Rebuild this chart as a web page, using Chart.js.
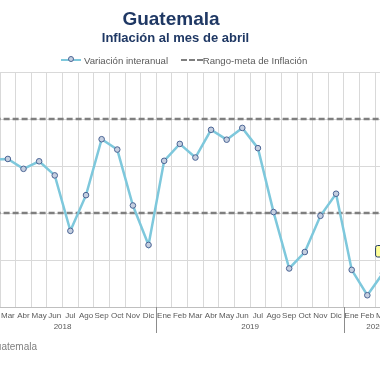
<!DOCTYPE html>
<html lang="es">
<head>
<meta charset="UTF-8">
<title>Guatemala: Inflación al mes de abril</title>
<script src="https://cdn.jsdelivr.net/npm/chart.js"></script>
<style>
  html, body { margin: 0; padding: 0; width: 380px; height: 380px; overflow: hidden; background: #fff;
    font-family: "Liberation Sans", Arial, sans-serif; }
  .wrap { position: absolute; left: -100px; top: 0; width: 540px; height: 380px; }
  .title { position: absolute; left: 0; width: 342px; top: 8px; text-align: center;
    font-weight: bold; font-size: 19px; color: #1f3864; }
  .subtitle { position: absolute; left: 0; width: 351px; top: 30px; text-align: center;
    font-weight: bold; font-size: 13px; color: #1f3864; }
  .legend { position: absolute; left: 61px; top: 54px; font-size: 9.6px; color: #595959; white-space: nowrap; }
  .legend span { display: inline-block; vertical-align: middle; }
  .ico-line { position: relative; width: 20px; height: 2px; background: #7ec8dc; margin-right: 3px; }
  .ico-line::after { content: ""; position: absolute; left: 7px; top: -3px; width: 6px; height: 6px;
    border-radius: 50%; border: 1px solid #4a6494; background: #c5cfe0; box-sizing: border-box; }
  .ico-dash { width: 22px; height: 0; border-top: 2px dashed #7f7f7f; margin-left: 10px; }
  .source { position: absolute; right: 343px; top: 341px; font-size: 10px; color: #7f7f7f; white-space: nowrap; }
</style>
</head>
<body>
  <div class="wrap"><canvas id="inflChart"></canvas></div>
  <div class="title">Guatemala</div>
  <div class="subtitle">Inflación al mes de abril</div>
  <div class="legend">
    <span class="ico-line"></span><span>Variación interanual</span>
    <span class="ico-dash"></span><span>Rango-meta de Inflación</span>
  </div>
  <div class="source">Fuente: Banco de Guatemala</div>

<script>
  // meses (ene 2018 - abr 2020)
  const months = ['Ene','Feb','Mar','Abr','May','Jun','Jul','Ago','Sep','Oct','Nov','Dic',
                  'Ene','Feb','Mar','Abr','May','Jun','Jul','Ago','Sep','Oct','Nov','Dic',
                  'Ene','Feb','Mar','Abr'];
  const years = ['2018', '2019', '2020'];
  const monthsPerYear = [12, 12, 4];

  // variación interanual (%)
  const inflation = [4.71, 4.14, 4.15, 3.94, 4.10, 3.80, 2.62, 3.38, 4.57, 4.35, 3.16, 2.32,
                     4.11, 4.47, 4.18, 4.77, 4.56, 4.81, 4.38, 3.02, 1.82, 2.17, 2.94, 3.41,
                     1.79, 1.25, 1.72, 2.00];

  // rango-meta: 4% +/- 1 punto
  const rangoMeta = [3, 5];

  const yTicks = { min: 1, max: 6, step: 1 };

  // year labels under the months, separators between years, label on the last value
  const extras = {
    id: 'extras',
    afterDatasetsDraw(chart) {
      const { ctx, chartArea, scales: { x } } = chart;
      ctx.save();
      ctx.font = '8px "Liberation Sans", Arial, sans-serif';
      ctx.fillStyle = '#595959';
      ctx.textAlign = 'center';
      ctx.textBaseline = 'middle';
      ctx.strokeStyle = '#8c8c8c';
      ctx.lineWidth = 1;
      let start = 0;
      years.forEach((yr, i) => {
        const end = start + monthsPerYear[i] - 1;
        const mid = (x.getPixelForValue(start) + x.getPixelForValue(end)) / 2;
        ctx.fillText(yr, mid, chartArea.bottom + 20);
        const half = (x.getPixelForValue(1) - x.getPixelForValue(0)) / 2;
        const sx = Math.round(x.getPixelForValue(start) - half) + 0.5;
        ctx.beginPath();
        ctx.moveTo(sx, chartArea.bottom);
        ctx.lineTo(sx, chartArea.bottom + 26);
        ctx.stroke();
        start = end + 1;
      });

      const meta = chart.getDatasetMeta(0);
      const pt = meta.data[meta.data.length - 1];
      const w = 46, h = 11.5;
      ctx.beginPath();
      ctx.roundRect(pt.x - w / 2, pt.y - 14.5, w, h, 2);
      ctx.fillStyle = '#ffff99';
      ctx.fill();
      ctx.strokeStyle = '#1f3864';
      ctx.stroke();
      ctx.fillStyle = '#1f3864';
      ctx.fillText(inflation[inflation.length - 1].toFixed(2) + '%', pt.x, pt.y - 8.75);
      ctx.restore();
    }
  };

  const ctxInfl = document.getElementById('inflChart').getContext('2d');
  new Chart(ctxInfl, {
    type: 'line',
    data: {
      labels: months,
      datasets: [{
        label: 'Variación interanual',
        data: inflation,
        borderColor: '#7ec8dc',
        borderWidth: 2.5,
        pointRadius: 2.8,
        pointBackgroundColor: '#c5cfe0',
        pointBorderColor: '#4a6494',
        pointBorderWidth: 1,
        tension: 0
      }, {
        label: 'Rango-meta de Inflación',
        data: months.map(() => rangoMeta[0]),
        borderColor: '#7f7f7f',
        borderWidth: 2.5,
        borderDash: [6, 3],
        pointRadius: 0
      }, {
        label: 'Rango-meta de Inflación',
        data: months.map(() => rangoMeta[1]),
        borderColor: '#7f7f7f',
        borderWidth: 2.5,
        borderDash: [6, 3],
        pointRadius: 0
      }]
    },
    options: {
      responsive: true,
      maintainAspectRatio: false,
      animation: false,
      layout: { padding: { top: 72, left: 68.8, right: 33.6, bottom: 0 } },
      plugins: { legend: { display: false }, title: { display: false }, tooltip: { enabled: false } },
      scales: {
        x: {
          offset: true,
          grid: { offset: true, color: '#d9d9d9', drawTicks: false },
          border: { color: '#bfbfbf' },
          ticks: { color: '#595959', font: { size: 8, family: '"Liberation Sans", Arial, sans-serif' },
                   padding: 4, autoSkip: false, maxRotation: 0 },
          afterFit(scale) { scale.height = 73; }
        },
        y: {
          min: yTicks.min,
          max: yTicks.max,
          ticks: { display: false, stepSize: yTicks.step },
          grid: { color: '#d9d9d9', drawTicks: false },
          border: { display: false },
          afterFit(scale) { scale.width = 0; }
        }
      }
    },
    plugins: [extras]
  });
</script>
</body>
</html>
